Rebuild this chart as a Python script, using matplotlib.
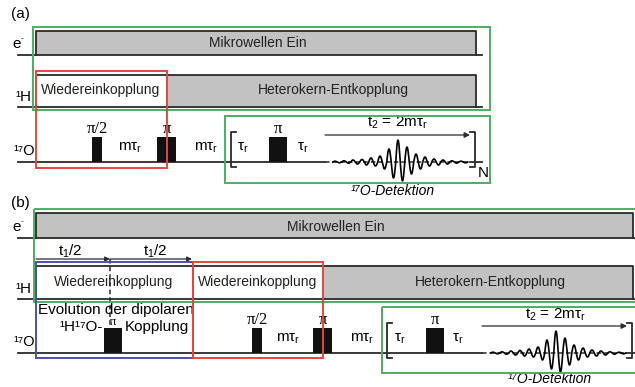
import numpy as np
from matplotlib import pyplot as plt
from matplotlib.patches import Rectangle

plt.rcParams['font.family'] = ['Liberation Sans', 'DejaVu Sans']
plt.rcParams['mathtext.fontset'] = 'custom'
plt.rcParams['mathtext.rm'] = 'Liberation Sans'
plt.rcParams['mathtext.it'] = 'Liberation Sans:italic'

# --- Werte aus dem Bild (Pixelraster 635 x 387) ---
# Kanäle: Basislinie y
a_base = {'e': 55, 'H': 107, 'O': 162}
b_base = {'e': 238, 'H': 299, 'O': 353}
# Pulse auf 17O (links, rechts, Beschriftung)
a_pulse_l = [92, 157, 269]
a_pulse_r = [102, 176, 287]
a_pulse_txt = ['π/2', 'π', 'π']
b_pulse_l = [104, 252, 313, 426]
b_pulse_r = [122, 262, 332, 444]
b_pulse_txt = ['', 'π/2', 'π', 'π']
# Verzögerungen
a_delay_x = [130, 206, 243, 303]
b_delay_x = [288, 362, 400, 458]
delay_txt = [r'$\mathrm{m\tau_r}$', r'$\mathrm{m\tau_r}$', r'$\mathrm{\tau_r}$', r'$\mathrm{\tau_r}$']
t2_txt = r'$\mathrm{t_2}$ = 2m$\mathrm{\tau_r}$'
# FID: Halbwellen-Amplituden (oben positiv)
fid_amp = [0.8, -0.8, 1.2, -1.2, 2, -2, 2.5, -3, 4, -4, 6, -7, 13, -16, 22,
           -19, 15, -12, 8, -7, 5, -4, 3, -3, 2, -2, 1.2, -1.2, 0.8, -0.8]
fid_half = 4.5

GRAY = '#c2c2c2'
EDGE = '#2a2a2a'
GREEN = '#4fad62'
RED = '#e8463c'
BLUE = '#4a52a8'
FS = 10

fig = plt.figure(figsize=(6.35, 3.87), dpi=100)
ax = fig.add_axes([0, 0, 1, 1])
ax.set_xlim(0, 635)
ax.set_ylim(387, 0)
ax.axis('off')


def channel(x0, x1, top, base, segs, line_end):
    # segs: (von, bis, farbe)
    for s0, s1, c in segs:
        ax.add_patch(Rectangle((s0, top), s1 - s0, base - top, fc=c, ec='none', zorder=1))
    ax.plot([x0, x0, x1, x1], [base, top, top, base], color=EDGE, lw=1.3, zorder=2)
    ax.plot([18, line_end], [base, base], color=EDGE, lw=1.3, zorder=2)


def labels(base):
    ax.text(12, base['e'] - 11, 'e', fontsize=FS + 1, va='center', ha='left')
    ax.text(21, base['e'] - 16, '-', fontsize=6, va='center', ha='left')
    ax.text(15, base['H'] - 10, '¹H', fontsize=FS + 1, va='center', ha='left')
    ax.text(13, base['O'] - 11, '¹⁷O', fontsize=FS + 0.5, va='center', ha='left')


def pulses(lefts, rights, txts, base):
    for l, r, t in zip(lefts, rights, txts):
        ax.add_patch(Rectangle((l, base - 25), r - l, 25, fc='#111111', ec='none', zorder=3))
        if t:
            ax.text((l + r) / 2, base - 33, t, fontsize=FS + 2, ha='center', va='center',
                    family=['Liberation Serif', 'DejaVu Serif'])


def delays(xs, base):
    for x, t in zip(xs, delay_txt):
        ax.text(x, base - 14, t, fontsize=FS + 1, ha='center', va='center')


def bracket(x, top, bot, d):
    ax.plot([x + d, x, x, x + d], [top, top, bot, bot], color=EDGE, lw=1.3, zorder=3)


def fid(xc, base, x0, x1):
    ax.plot([x0, x1], [base, base], color=EDGE, lw=1.1, ls=(0, (3, 2)), zorder=2)
    start = xc - (fid_amp.index(max(fid_amp)) + 0.5) * fid_half
    xs, ys = [], []
    for k, a in enumerate(fid_amp):
        t = np.linspace(0, 1, 12)
        xs.extend(start + (k + t) * fid_half)
        ys.extend(base - a * np.sin(np.pi * t))
    ax.plot(xs, ys, color='black', lw=1.2, zorder=3)


def box(x0, y0, x1, y1, c):
    ax.add_patch(Rectangle((x0, y0), x1 - x0, y1 - y0, fc='none', ec=c, lw=1.4, zorder=4))


# ---------- (a) ----------
ax.text(11, 14, '(a)', fontsize=FS + 1, va='center')
labels(a_base)
channel(36, 476, 31, a_base['e'], [(36, 476, GRAY)], 482)
ax.text(258, 43, 'Mikrowellen Ein', fontsize=FS, ha='center', va='center', color='#222')
channel(36, 476, 75, a_base['H'], [(36, 166, 'white'), (166, 476, GRAY)], 482)
ax.text(101, 90, 'Wiedereinkopplung', fontsize=FS, ha='center', va='center', color='#222')
ax.text(333, 90, 'Heterokern-Entkopplung', fontsize=FS, ha='center', va='center', color='#222')
ax.plot([18, 325], [a_base['O']] * 2, color=EDGE, lw=1.3, zorder=2)
ax.plot([470, 482], [a_base['O']] * 2, color=EDGE, lw=1.3, zorder=2)
pulses(a_pulse_l, a_pulse_r, a_pulse_txt, a_base['O'])
delays(a_delay_x, a_base['O'])
bracket(231, 132, 167, 5)
bracket(475, 132, 167, -5)
ax.text(478, 173, 'N', fontsize=FS + 1, va='center', ha='left')
ax.annotate('', xy=(470, 135), xytext=(325, 135),
            arrowprops=dict(arrowstyle='-|>', color=EDGE, lw=0.9, mutation_scale=8, shrinkA=0, shrinkB=0))
ax.text(397, 123, t2_txt, fontsize=FS + 1, ha='center', va='center')
fid(398, a_base['O'], 325, 470)
ax.text(393, 191, '¹⁷O-Detektion', fontsize=FS, style='italic', ha='center', va='center')
box(33, 27, 490, 110, GREEN)
box(225, 116, 490, 183, GREEN)
box(36, 71, 167, 168, RED)

# ---------- (b) ----------
ax.text(11, 203, '(b)', fontsize=FS + 1, va='center')
labels(b_base)
channel(36, 633, 213, b_base['e'], [(36, 633, GRAY)], 640)
ax.text(336, 227, 'Mikrowellen Ein', fontsize=FS, ha='center', va='center', color='#222')
channel(36, 633, 266, b_base['H'], [(36, 323, 'white'), (323, 633, GRAY)], 640)
ax.text(114, 282, 'Wiedereinkopplung', fontsize=FS, ha='center', va='center', color='#222')
ax.text(258, 282, 'Wiedereinkopplung', fontsize=FS, ha='center', va='center', color='#222')
ax.text(490, 282, 'Heterokern-Entkopplung', fontsize=FS, ha='center', va='center', color='#222')
ax.plot([18, 482], [b_base['O']] * 2, color=EDGE, lw=1.3, zorder=2)
ax.plot([627, 640], [b_base['O']] * 2, color=EDGE, lw=1.3, zorder=2)
pulses(b_pulse_l, b_pulse_r, b_pulse_txt, b_base['O'])
ax.text(113, 322, 'π', fontsize=FS - 1, ha='center', va='center', family=['Liberation Serif', 'DejaVu Serif'])
delays(b_delay_x, b_base['O'])
# t1/2 Pfeile
for x0, x1, xt in [(36, 110, 70), (110, 192, 155)]:
    ax.annotate('', xy=(x1, 259), xytext=(x0, 259),
                arrowprops=dict(arrowstyle='-|>', color=EDGE, lw=0.9, mutation_scale=7, shrinkA=0, shrinkB=0))
    ax.text(xt, 251, r'$\mathrm{t_1}$/2', fontsize=FS + 1, ha='center', va='center')
ax.plot([110, 110], [259, 326], color=EDGE, lw=1.1, ls=(0, (3, 2)), zorder=2)
ax.text(116, 310, 'Evolution der dipolaren', fontsize=FS + 1, ha='center', va='center')
ax.text(103, 327, '¹H¹⁷O-', fontsize=FS + 1, ha='right', va='center')
ax.text(125, 327, 'Kopplung', fontsize=FS + 1, ha='left', va='center')
bracket(387, 323, 358, 5)
bracket(632, 323, 358, -5)
ax.annotate('', xy=(627, 326), xytext=(482, 326),
            arrowprops=dict(arrowstyle='-|>', color=EDGE, lw=0.9, mutation_scale=8, shrinkA=0, shrinkB=0))
ax.text(555, 315, t2_txt, fontsize=FS + 1, ha='center', va='center')
fid(556, b_base['O'], 482, 627)
ax.text(550, 379, '¹⁷O-Detektion', fontsize=FS, style='italic', ha='center', va='center')
box(34, 209, 660, 302, GREEN)
box(382, 307, 660, 373, GREEN)
box(36, 262, 193, 358, BLUE)
box(193, 262, 323, 358, RED)

fig.savefig('out.png', dpi=100)
